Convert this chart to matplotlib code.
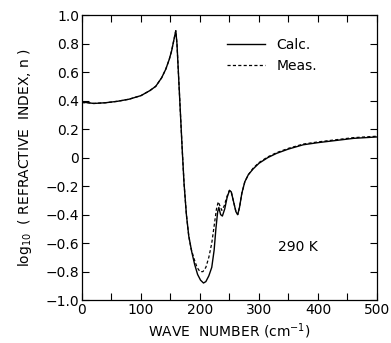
import matplotlib
matplotlib.use("Agg")
import matplotlib.pyplot as plt
from matplotlib.ticker import MultipleLocator

calc_x = [0, 10, 20, 40, 60, 80, 100, 115, 125, 135, 142, 148, 152, 156, 159, 161, 164, 167, 170, 173,
          177, 181, 186, 191, 196, 201, 206, 210, 215, 220, 224, 227, 230, 232, 235, 238, 242, 246, 250,
          253, 257, 261, 264, 267, 271, 276, 282, 290, 300, 315, 330, 350, 375, 400, 430, 460, 500]
calc_y = [0.39, 0.385, 0.38, 0.385, 0.395, 0.41, 0.435, 0.47, 0.50, 0.56, 0.62, 0.69, 0.75, 0.83, 0.89,
          0.80, 0.55, 0.30, 0.05, -0.18, -0.40, -0.55, -0.66, -0.75, -0.82, -0.86, -0.88, -0.87, -0.83,
          -0.77, -0.65, -0.50, -0.38, -0.35, -0.40, -0.41, -0.36, -0.28, -0.23, -0.24, -0.31, -0.38, -0.40,
          -0.35, -0.25, -0.17, -0.12, -0.08, -0.04, 0.0, 0.03, 0.06, 0.09, 0.105, 0.12, 0.135, 0.145]

meas_x = [0, 10, 20, 40, 60, 80, 100, 115, 125, 135, 142, 148, 152, 156, 159, 161, 164, 167, 170, 173,
          177, 181, 185, 190, 195, 200, 205, 210, 215, 220, 224, 228, 231, 234, 237, 241, 246, 250,
          253, 257, 261, 264, 267, 271, 276, 282, 290, 300, 315, 330, 350, 375, 400, 430, 460, 500]
meas_y = [0.385, 0.385, 0.38, 0.385, 0.395, 0.41, 0.435, 0.47, 0.50, 0.56, 0.62, 0.69, 0.75, 0.83, 0.89,
          0.80, 0.55, 0.30, 0.05, -0.18, -0.40, -0.55, -0.64, -0.71, -0.77, -0.80, -0.80, -0.77, -0.70,
          -0.60, -0.48, -0.36, -0.31, -0.34, -0.37, -0.34, -0.27, -0.23, -0.24, -0.31, -0.38, -0.40,
          -0.35, -0.25, -0.17, -0.12, -0.075, -0.035, 0.005, 0.035, 0.065, 0.095, 0.11, 0.125, 0.14, 0.15]

x_ticks = [0, 100, 200, 300, 400, 500]
x_labels = ["0", "100", "200", "300", "400", "500"]
y_ticks = [-1.0, -0.8, -0.6, -0.4, -0.2, 0.0, 0.2, 0.4, 0.6, 0.8, 1.0]
y_labels = ["\u22121.0", "\u22120.8", "\u22120.6", "\u22120.4", "\u22120.2", "0",
            "0.2", "0.4", "0.6", "0.8", "1.0"]

plt.rcParams['font.family'] = ['DejaVu Sans']
fig = plt.figure(figsize=(3.91, 3.43), dpi=100)
ax = fig.add_axes([0.2097, 0.125, 0.7543, 0.831])

ax.plot(calc_x, calc_y, color='black', lw=1.0, label='Calc.')
ax.plot(meas_x, meas_y, color='black', lw=0.9, ls=(0, (2.5, 1.8)), label='Meas.')

ax.set_xlim(0, 500)
ax.set_ylim(-1.0, 1.0)
ax.set_xticks(x_ticks)
ax.set_xticklabels(x_labels)
ax.xaxis.set_minor_locator(MultipleLocator(50))
ax.set_yticks(y_ticks)
ax.set_yticklabels(y_labels)
ax.tick_params(which='both', direction='in', top=True, right=True, labelsize=10, width=0.8)
ax.tick_params(which='major', length=5, pad=2)
ax.tick_params(which='minor', length=5)
for s in ax.spines.values():
    s.set_linewidth(0.9)

ax.set_xlabel("WAVE  NUMBER (cm$^{-1}$)", fontsize=10, labelpad=3)
ax.set_ylabel("log$_{10}$  ( REFRACTIVE  INDEX, n )", fontsize=10, labelpad=8)

ax.text(332, -0.63, "290 K", fontsize=10, ha='left', va='center')

ax.legend(loc='upper right', bbox_to_anchor=(0.84, 0.965), frameon=False, fontsize=10,
          handlelength=2.8, handletextpad=0.8, labelspacing=0.5)

fig.savefig("out.png", dpi=100)
